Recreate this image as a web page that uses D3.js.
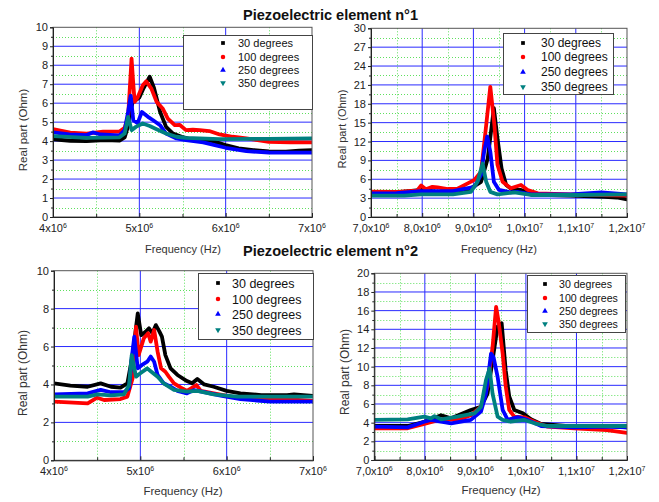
<!doctype html>
<html lang="en">
  <head>
    <meta charset="utf-8">
    <title>Piezoelectric elements</title>
    <style>
      body { margin: 0; background: #fff; }
      text { font-family: "Liberation Sans", Arial, sans-serif; }
    </style>
  </head>
  <body>
    <div id="chart"></div>
    <script src="https://d3js.org/d3.v7.min.js"></script>
    <script>
    // ---- data (frequency in MHz, real part in Ohm) ----
    var seriesNames = ["30 degrees", "100 degrees", "250 degrees", "350 degrees"];

    // Piezoelectric element n°1, 4 - 7 MHz
    var e1LowDeg30 = [[4.0,4.1],[4.2,4.02],[4.39,4.0],[4.6,4.05],[4.77,4.03],[4.83,4.2],[4.87,4.8],[4.9,5.6],[4.93,6.2],[4.97,6.2],[5.0,6.3],[5.05,6.8],[5.12,7.4],[5.17,6.8],[5.24,5.55],[5.31,4.75],[5.39,4.4],[5.49,4.23],[5.6,4.1],[5.72,4.05],[5.85,4.0],[6.0,3.79],[6.15,3.62],[6.32,3.53],[6.5,3.46],[6.7,3.44],[6.85,3.5],[7.0,3.53]];
    var e1LowDeg100 = [[4.0,4.63],[4.2,4.45],[4.39,4.4],[4.58,4.5],[4.77,4.5],[4.83,4.7],[4.87,5.3],[4.89,6.8],[4.91,8.35],[4.93,7.0],[4.946,6.07],[4.98,6.3],[5.04,6.95],[5.08,7.15],[5.14,6.77],[5.2,6.07],[5.27,5.72],[5.33,5.19],[5.41,4.84],[5.47,4.85],[5.54,4.58],[5.62,4.6],[5.7,4.58],[5.81,4.53],[5.93,4.35],[6.08,4.23],[6.24,4.14],[6.5,3.96],[6.75,3.94],[7.0,3.93]];
    var e1LowDeg250 = [[4.0,4.46],[4.19,4.35],[4.39,4.32],[4.46,4.46],[4.55,4.35],[4.77,4.3],[4.83,4.58],[4.87,5.54],[4.9,6.39],[4.93,5.1],[4.98,4.95],[5.03,5.54],[5.1,5.28],[5.16,5.1],[5.24,4.84],[5.31,4.4],[5.43,4.14],[5.54,4.05],[5.74,3.93],[5.85,3.82],[6.0,3.65],[6.24,3.47],[6.5,3.4],[6.75,3.39],[7.0,3.39]];
    var e1LowDeg350 = [[4.0,4.26],[4.39,4.17],[4.77,4.2],[4.83,4.4],[4.87,5.28],[4.91,4.58],[4.96,4.75],[5.04,4.93],[5.12,4.8],[5.2,4.63],[5.31,4.4],[5.43,4.23],[5.54,4.17],[5.93,4.1],[6.5,4.12],[7.0,4.14]];

    // Piezoelectric element n°1, 7 - 12 MHz
    var e1HighDeg30 = [[7.0,3.9],[7.5,3.9],[7.98,4.3],[8.3,4.0],[8.7,3.9],[8.95,4.56],[9.15,5.6],[9.28,9.3],[9.4,17.3],[9.47,12.5],[9.55,7.7],[9.64,5.1],[9.77,4.3],[9.93,4.3],[10.12,3.76],[10.5,3.5],[10.9,3.4],[11.56,3.2],[11.8,3.1],[12.0,2.8]];
    var e1HighDeg100 = [[7.0,4.03],[7.5,4.0],[7.9,4.2],[7.98,5.0],[8.07,4.4],[8.2,4.8],[8.3,4.7],[8.5,4.45],[8.69,4.5],[8.89,5.35],[9.02,5.9],[9.15,7.2],[9.25,14.6],[9.33,20.7],[9.41,14.6],[9.47,8.3],[9.57,5.6],[9.73,4.56],[9.93,5.09],[10.06,4.3],[10.26,3.76],[10.9,3.6],[11.5,3.5],[12.0,3.4]];
    var e1HighDeg250 = [[7.0,3.76],[7.5,3.8],[7.98,4.1],[8.6,4.1],[9.02,4.8],[9.15,6.7],[9.21,10.4],[9.27,12.8],[9.33,10.4],[9.4,5.6],[9.5,4.3],[9.73,3.9],[9.86,4.0],[10.12,3.6],[10.9,3.6],[11.5,3.9],[12.0,3.6]];
    var e1HighDeg350 = [[7.0,3.4],[7.65,3.4],[7.98,3.6],[8.6,3.6],[8.95,4.0],[9.08,5.6],[9.18,8.5],[9.25,5.6],[9.33,4.0],[9.47,3.6],[9.8,3.9],[10.12,3.5],[11.0,3.5],[12.0,3.6]];

    // Piezoelectric element n°2, 4 - 7 MHz
    var e2LowDeg30 = [[4.0,4.06],[4.19,3.94],[4.39,3.88],[4.54,4.06],[4.66,3.88],[4.77,3.83],[4.85,4.06],[4.91,5.55],[4.97,7.75],[5.01,6.6],[5.06,6.78],[5.1,6.96],[5.14,6.7],[5.18,7.13],[5.22,6.8],[5.25,6.52],[5.29,5.55],[5.35,4.85],[5.43,4.5],[5.54,4.18],[5.6,4.06],[5.66,4.29],[5.74,4.0],[5.85,3.88],[6.0,3.66],[6.16,3.53],[6.4,3.44],[6.7,3.44],[6.78,3.48],[7.0,3.39]];
    var e2LowDeg100 = [[4.0,3.09],[4.39,3.0],[4.5,3.3],[4.58,3.18],[4.77,3.23],[4.85,3.36],[4.91,4.32],[4.95,7.05],[4.98,5.55],[5.04,6.43],[5.09,6.7],[5.12,6.26],[5.16,6.87],[5.2,5.73],[5.24,4.85],[5.29,4.67],[5.33,4.41],[5.39,4.06],[5.47,3.83],[5.54,3.66],[5.65,3.97],[5.7,3.66],[5.85,3.53],[6.12,3.3],[6.5,3.23],[6.7,3.23],[7.0,3.13]];
    var e2LowDeg250 = [[4.0,3.48],[4.39,3.53],[4.54,3.71],[4.66,3.59],[4.81,3.59],[4.87,3.8],[4.9,5.38],[4.93,6.52],[4.97,4.85],[5.02,5.03],[5.08,5.2],[5.12,5.47],[5.16,5.2],[5.2,4.5],[5.27,4.06],[5.35,3.88],[5.43,3.66],[5.54,3.53],[5.62,3.7],[5.74,3.59],[5.93,3.41],[6.16,3.23],[6.5,3.09],[7.0,3.09]];
    var e2LowDeg350 = [[4.0,3.36],[4.39,3.36],[4.5,3.48],[4.66,3.42],[4.81,3.48],[4.87,3.97],[4.9,5.55],[4.95,4.41],[5.0,4.59],[5.08,4.85],[5.12,4.7],[5.2,4.41],[5.27,4.06],[5.39,3.71],[5.54,3.62],[5.66,3.66],[5.85,3.48],[6.12,3.36],[6.5,3.36],[7.0,3.36]];

    // Piezoelectric element n°2, 7 - 12 MHz
    var e2HighDeg30 = [[7.0,3.64],[7.66,3.64],[7.99,4.1],[8.32,4.8],[8.52,4.46],[8.91,5.36],[9.11,5.7],[9.24,7.1],[9.34,10.7],[9.44,14.3],[9.52,14.65],[9.6,9.6],[9.67,6.8],[9.77,5.36],[9.94,5.0],[10.1,4.36],[10.3,3.86],[10.96,3.57],[11.6,3.64],[12.0,3.5]];
    var e2HighDeg100 = [[7.0,3.4],[7.66,3.4],[7.99,3.86],[8.32,4.36],[8.65,4.3],[8.91,4.8],[9.11,5.7],[9.24,7.86],[9.34,12.1],[9.41,16.4],[9.46,14.8],[9.54,11.4],[9.6,7.9],[9.67,5.36],[9.77,4.64],[9.97,4.57],[10.17,4.1],[10.43,3.57],[10.96,3.4],[11.6,3.2],[12.0,2.9]];
    var e2HighDeg250 = [[7.0,3.57],[7.66,3.5],[7.99,4.1],[8.12,4.3],[8.32,4.1],[8.52,3.93],[8.91,4.3],[9.11,5.18],[9.21,7.1],[9.31,11.4],[9.36,11.0],[9.44,8.9],[9.54,5.36],[9.64,4.3],[9.84,4.6],[10.03,4.3],[10.3,3.64],[10.96,3.5],[11.6,3.57],[12.0,3.5]];
    var e2HighDeg350 = [[7.0,4.29],[7.66,4.36],[7.99,4.64],[8.12,4.46],[8.19,4.7],[8.32,4.36],[8.65,4.64],[8.98,5.0],[9.11,5.7],[9.21,8.57],[9.28,9.8],[9.34,7.1],[9.44,4.64],[9.54,4.3],[9.7,4.1],[9.97,4.29],[10.17,3.93],[10.43,3.64],[11.0,3.64],[12.0,3.64]];

    // tick labels
    var xTicksLow = [4, 5, 6, 7];
    var xLabelsLow = [["4x10","6"], ["5x10","6"], ["6x10","6"], ["7x10","6"]];
    var xTicksHigh = [7, 8, 9, 10, 11, 12];
    var xLabelsHigh = [["7,0x10","6"], ["8,0x10","6"], ["9,0x10","6"], ["1,0x10","7"], ["1,1x10","7"], ["1,2x10","7"]];
    var titles = ["Piezoelectric element n°1", "Piezoelectric element n°2"];

    var colors = ["#000000", "#ff0000", "#0000ff", "#008080"];
    var symbols = [d3.symbolSquare, d3.symbolCircle, d3.symbolTriangle, d3.symbolTriangle];

    var svg = d3.select("#chart").append("svg")
        .attr("width", 659)
        .attr("height", 502);

    // panel layout
    var panels = [
      { box: [53, 312, 27.3, 217], ymax: 10, ystep: 1, low: true,
        series: [e1LowDeg30, e1LowDeg100, e1LowDeg250, e1LowDeg350],
        legend: { x: 183, y: 35, w: 129, h: 74, mx: 223, tx: 238, rows: [43, 57, 70, 83], fs: 11 },
        ylab: [23, 130, 11.5], xlab: [183, 253, 11] },
      { box: [371, 627, 28.3, 217], ymax: 30, ystep: 3, low: false,
        series: [e1HighDeg30, e1HighDeg100, e1HighDeg250, e1HighDeg350],
        legend: { x: 503, y: 33, w: 110, h: 61, mx: 523, tx: 541, rows: [43, 57, 72, 87], fs: 12 },
        ylab: [342, 129, 11], xlab: [499, 253, 11] },
      { box: [54, 313, 270.7, 460.3], ymax: 10, ystep: 2, low: true,
        series: [e2LowDeg30, e2LowDeg100, e2LowDeg250, e2LowDeg350],
        legend: { x: 198, y: 273, w: 115, h: 66, mx: 218, tx: 232, rows: [283, 299, 314, 330], fs: 12.5 },
        ylab: [23, 373, 12], xlab: [183, 495, 11.5] },
      { box: [374.3, 627, 273.3, 460], ymax: 20, ystep: 2, low: false,
        series: [e2HighDeg30, e2HighDeg100, e2HighDeg250, e2HighDeg350],
        legend: { x: 527, y: 275, w: 98, h: 57, mx: 545, tx: 559, rows: [284, 298, 311, 324], fs: 10.6 },
        ylab: [345, 372, 12], xlab: [501, 494, 11.5] }
    ];

    function snap(v){ return Math.round(v) + 0.5; }

    panels.forEach(function(p, pi){
      var x0 = p.box[0], x1 = p.box[1], y0 = p.box[2], y1 = p.box[3];
      var xt = p.low ? xTicksLow : xTicksHigh;
      var xl = p.low ? xLabelsLow : xLabelsHigh;
      var x = d3.scaleLinear().domain([xt[0], xt[xt.length-1]]).range([x0, x1]);
      var y = d3.scaleLinear().domain([0, p.ymax]).range([y1, y0]);

      var yMajor = d3.range(0, p.ymax + 0.001, p.ystep);
      var yMinor = d3.range(p.ystep / 2, p.ymax, p.ystep);
      var xMinor = d3.range(xt[0] + 0.5, xt[xt.length-1], 1);

      var g = svg.append("g");

      // minor grid (green dotted)
      g.append("g").selectAll("line").data(yMinor).join("line")
        .attr("x1", x0).attr("x2", x1)
        .attr("y1", function(d){ return snap(y(d)); }).attr("y2", function(d){ return snap(y(d)); })
        .attr("stroke", "#5ee05e").attr("stroke-width", 1).attr("stroke-dasharray", "1,2");
      g.append("g").selectAll("line").data(xMinor).join("line")
        .attr("y1", y0).attr("y2", y1)
        .attr("x1", function(d){ return snap(x(d)); }).attr("x2", function(d){ return snap(x(d)); })
        .attr("stroke", "#5ee05e").attr("stroke-width", 1).attr("stroke-dasharray", "1,2");

      // major grid (blue)
      g.append("g").selectAll("line").data(yMajor.slice(1, -1)).join("line")
        .attr("x1", x0).attr("x2", x1)
        .attr("y1", function(d){ return y(d); }).attr("y2", function(d){ return y(d); })
        .attr("stroke", "#2a2aff").attr("stroke-width", 1);
      g.append("g").selectAll("line").data(xt.slice(1, -1)).join("line")
        .attr("y1", y0).attr("y2", y1)
        .attr("x1", function(d){ return x(d); }).attr("x2", function(d){ return x(d); })
        .attr("stroke", "#2a2aff").attr("stroke-width", 1);

      // series
      var clipId = "clip" + pi;
      svg.append("clipPath").attr("id", clipId).append("rect")
        .attr("x", x0).attr("y", y0).attr("width", x1 - x0).attr("height", y1 - y0);
      var line = d3.line()
        .x(function(d){ return x(d[0]); })
        .y(function(d){ return y(d[1]); });
      g.append("g").attr("clip-path", "url(#" + clipId + ")")
        .selectAll("path").data(p.series).join("path")
        .attr("d", line)
        .attr("fill", "none")
        .attr("stroke", function(d, i){ return colors[i]; })
        .attr("stroke-width", 3.8)
        .attr("stroke-linejoin", "round")
        .attr("stroke-linecap", "round");

      // frame
      g.append("rect")
        .attr("x", x0).attr("y", y0).attr("width", x1 - x0).attr("height", y1 - y0)
        .attr("fill", "none").attr("stroke", "#555").attr("stroke-width", 1);

      // y axis
      var yAxis = d3.axisLeft(y).tickValues(yMajor).tickSize(3).tickPadding(2)
        .tickFormat(d3.format("d"));
      var ya = g.append("g").attr("transform", "translate(" + x0 + ",0)").call(yAxis);
      g.append("g").attr("transform", "translate(" + x0 + ",0)")
        .call(d3.axisLeft(y).tickValues(yMinor).tickSize(2).tickFormat(""))
        .select(".domain").remove();

      // x axis (ticks point inside)
      g.append("g").attr("transform", "translate(0," + y1 + ")")
        .call(d3.axisBottom(x).tickValues(xt).tickSize(-4).tickFormat(""));
      g.append("g").attr("transform", "translate(0," + y1 + ")")
        .call(d3.axisBottom(x).tickValues(xMinor).tickSize(-3).tickFormat(""))
        .select(".domain").remove();

      g.selectAll(".domain").attr("stroke", "#222");
      g.selectAll(".tick line").attr("stroke", "#222");
      ya.selectAll(".tick text")
        .attr("font-family", "Liberation Sans, Arial, sans-serif")
        .attr("font-size", 11).attr("fill", "#222");

      // x tick labels with exponent
      var xtl = g.append("g").selectAll("text").data(xt).join("text")
        .attr("x", function(d){ return x(d); })
        .attr("y", y1 + 15)
        .attr("text-anchor", "middle")
        .attr("font-size", 11)
        .attr("fill", "#222");
      xtl.append("tspan").text(function(d, i){ return xl[i][0]; });
      xtl.append("tspan").attr("dy", -4).attr("font-size", 7).text(function(d, i){ return xl[i][1]; });

      // axis titles
      g.append("text")
        .attr("transform", "translate(" + p.ylab[0] + "," + p.ylab[1] + ") rotate(-90)")
        .attr("text-anchor", "middle").attr("dy", "0.35em")
        .attr("font-size", p.ylab[2]).attr("fill", "#333")
        .text("Real part (Ohm)");
      g.append("text")
        .attr("x", p.xlab[0]).attr("y", p.xlab[1])
        .attr("text-anchor", "middle")
        .attr("font-size", p.xlab[2]).attr("fill", "#333")
        .text("Frequency (Hz)");

      // legend
      var L = p.legend;
      var lg = g.append("g");
      lg.append("rect").attr("x", L.x + 0.5).attr("y", L.y + 0.5).attr("width", L.w).attr("height", L.h)
        .attr("fill", "#fff").attr("stroke", "#444").attr("stroke-width", 1);
      seriesNames.forEach(function(name, i){
        lg.append("path")
          .attr("d", d3.symbol().type(symbols[i]).size(i === 1 ? 16 : 14)())
          .attr("transform", "translate(" + L.mx + "," + L.rows[i] + ")" + (i === 3 ? " rotate(180)" : ""))
          .attr("fill", colors[i]);
        lg.append("text")
          .attr("x", L.tx).attr("y", L.rows[i]).attr("dy", "0.36em")
          .attr("font-size", L.fs).attr("fill", "#111")
          .text(name);
      });
    });

    // titles
    svg.selectAll(".title").data(titles).join("text")
      .attr("x", 330.5)
      .attr("y", function(d, i){ return i === 0 ? 20 : 256; })
      .attr("text-anchor", "middle")
      .attr("font-family", "Lato, 'Open Sans', sans-serif")
      .attr("font-weight", "bold")
      .attr("font-size", 15)
      .attr("textLength", 175)
      .attr("lengthAdjust", "spacingAndGlyphs")
      .attr("fill", "#111")
      .text(function(d){ return d; });
    </script>
  </body>
</html>
